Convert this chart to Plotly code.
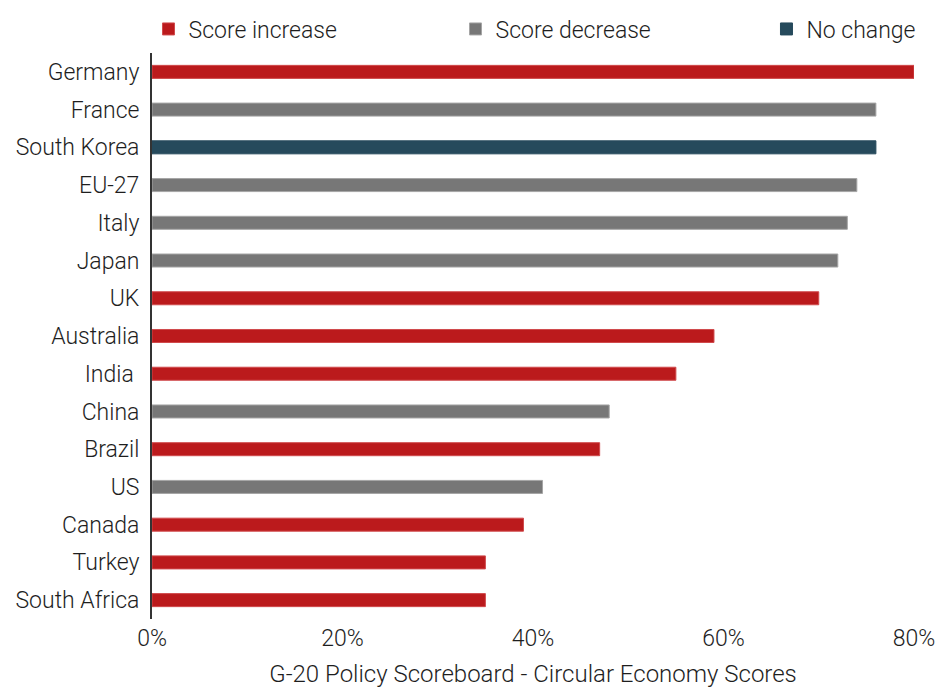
import plotly.graph_objects as go

countries = ["Germany", "France", "South Korea", "EU-27", "Italy", "Japan", "UK",
             "Australia", "India\u00a0", "China", "Brazil", "US", "Canada", "Turkey", "South Africa"]
scores = [80, 76, 76, 74, 73, 72, 70, 59, 55, 48, 47, 41, 39, 35, 35]
change = ["increase", "decrease", "none", "decrease", "decrease", "decrease", "increase",
          "increase", "increase", "decrease", "increase", "decrease", "increase", "increase", "increase"]

# key, legend label, fill, edge, legend id, legend x (paper)
series = [
    ("increase", "Score increase", "#BB1A1C", "#D04A4C", "legend", -0.0046),
    ("decrease", "Score decrease", "#777777", "#A5A5A5", "legend2", 0.3983),
    ("none", "No change", "#264A5C", "#264A5C", "legend3", 0.8064),
]

FONT = "Roboto, Helvetica Neue, Arial, sans-serif"
TXT = "#1E1E1E"
SIZE = 23

fig = go.Figure()
legends = {}
for key, name, color, edge, lg, lx in series:
    ys = [c for c, k in zip(countries, change) if k == key]
    xs = [s / 100 for s, k in zip(scores, change) if k == key]
    fig.add_trace(go.Bar(
        x=xs, y=ys, name=name, orientation="h", width=0.345, legend=lg,
        showlegend=True,
        marker=dict(color=color, line=dict(color=edge, width=1)),
    ))
    legends[lg] = dict(orientation="h", x=lx, y=1.0424, xanchor="left", yanchor="middle",
                       bgcolor="rgba(0,0,0,0)", itemwidth=30, visible=True,
                       font=dict(family=FONT, size=SIZE, color=TXT, weight=300))

fig.update_layout(
    width=940, height=688,
    margin=dict(l=152, r=26, t=53, b=69, autoexpand=False),
    paper_bgcolor="white", plot_bgcolor="white",
    barmode="overlay", showlegend=True,
    font=dict(family=FONT, size=SIZE, color=TXT, weight=300),
    **legends,
    xaxis=dict(range=[0, 0.8], tickvals=[0, 0.2, 0.4, 0.6, 0.8], tickformat=".0%",
               showgrid=False, zeroline=False, showline=False,
               ticklabelstandoff=3,
               title=dict(text="G-20 Policy Scoreboard - Circular Economy Scores",
                          font=dict(family=FONT, size=24, color=TXT, weight=300), standoff=19),
               tickfont=dict(family=FONT, size=SIZE, color=TXT, weight=300)),
    yaxis=dict(categoryorder="array", categoryarray=countries,
               range=[14.5, -0.5], showgrid=False, zeroline=False,
               showline=True, linecolor="#333333", linewidth=2,
               ticklabelstandoff=6,
               tickfont=dict(family=FONT, size=SIZE, color=TXT, weight=300)),
)

fig.write_html("out.html")
